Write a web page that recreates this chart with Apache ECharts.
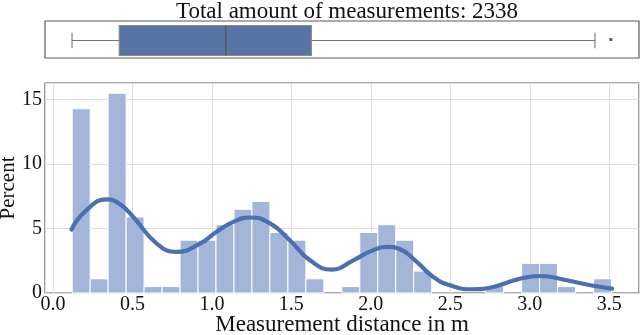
<!DOCTYPE html>
<html><head><meta charset="utf-8">
<script src="https://cdn.jsdelivr.net/npm/echarts@6/dist/echarts.min.js"></script>
<style>html,body{margin:0;padding:0;background:#fff}#c{width:640px;height:335px}</style>
</head><body><div id="c"></div>
<script>
// ---- data ----
const titleText = 'Total amount of measurements: 2338';
const xName = 'Measurement distance in m';
const yName = 'Percent';
const binStart = 0.121;
const binWidth = 0.1131;
const binPercent = [14.3, 1.1, 15.5, 5.9, 0.5, 0.5, 4.1, 4.1, 5.3, 6.5, 7.1, 4.7, 4.1, 1.1, 0, 0.5, 4.7, 5.3, 4.1, 1.7, 0, 0, 0, 0.5, 0, 2.3, 2.3, 0.5, 0, 1.1];
const kdeX = [0.117, 0.2, 0.338, 0.42, 0.505, 0.653, 0.778, 0.925, 1.03, 1.135, 1.24, 1.366, 1.49, 1.617, 1.754, 1.89, 2.0, 2.1, 2.184, 2.289, 2.393, 2.498, 2.635, 2.77, 2.918, 3.065, 3.233, 3.38, 3.518];
const kdeY = [4.93, 6.3, 7.26, 6.9, 5.9, 3.84, 3.19, 3.84, 4.75, 5.52, 5.86, 5.4, 4.1, 2.54, 1.82, 2.54, 3.25, 3.58, 3.4, 2.41, 1.24, 0.6, 0.29, 0.47, 1.04, 1.32, 0.99, 0.6, 0.34];
const boxStats = [0.12, 0.417, 1.087, 1.626, 3.41]; // whisker min, Q1, median, Q3, whisker max
const outliers = [3.51];

// ---- build ----
const histData = binPercent.map((h, i) => [binStart + i * binWidth, binStart + (i + 1) * binWidth, h]);
const kdeData = kdeX.map((x, i) => [x, kdeY[i]]);
const FONT = 'Liberation Serif';
const XMIN = -0.05, XMAX = 3.687;
const LINE = '#757575';

const chart = echarts.init(document.getElementById('c'), null, {renderer: 'canvas'});
chart.setOption({
  animation: false,
  backgroundColor: '#fff',
  textStyle: {fontFamily: FONT},
  title: {
    text: titleText, left: 342, top: -5, textAlign: 'center',
    textStyle: {fontFamily: FONT, fontSize: 23, fontWeight: 'normal', color: '#111'}
  },
  grid: [
    {left: 45, right: 1, top: 21, height: 37, containLabel: false, outerBoundsMode: 'none',
      show: true, borderColor: '#5a5a5a', borderWidth: 1.2, backgroundColor: '#fff'},
    {left: 45, right: 1, top: 83, bottom: 42, containLabel: false, outerBoundsMode: 'none',
      show: true, borderColor: '#5a5a5a', borderWidth: 1.2, backgroundColor: '#fff'}
  ],
  xAxis: [
    {type: 'value', gridIndex: 0, min: XMIN, max: XMAX, show: false, splitLine: {show: false}},
    {type: 'value', gridIndex: 1, min: XMIN, max: XMAX, splitNumber: 7,
      name: xName, nameLocation: 'middle', nameGap: 20, nameMoveOverlap: false,
      nameTextStyle: {fontFamily: FONT, fontSize: 23, color: '#111'},
      axisLine: {show: false}, axisTick: {show: false},
      axisLabel: {fontFamily: FONT, fontSize: 20, color: '#111', margin: 2,
        showMinLabel: false, showMaxLabel: false, formatter: v => v.toFixed(1)},
      splitLine: {show: true, lineStyle: {color: '#dedede', width: 1}}
    }
  ],
  yAxis: [
    {type: 'category', gridIndex: 0, data: [''], show: false},
    {type: 'value', gridIndex: 1, min: 0, max: 16.3, interval: 5,
      name: yName, nameLocation: 'middle', nameGap: 26, nameMoveOverlap: false,
      nameTextStyle: {fontFamily: FONT, fontSize: 21, color: '#111'},
      axisLine: {show: false}, axisTick: {show: false},
      axisLabel: {fontFamily: FONT, fontSize: 20, color: '#111', margin: 3, showMaxLabel: false},
      splitLine: {show: true, lineStyle: {color: '#dedede', width: 1}}
    }
  ],
  series: [
    {
      type: 'custom', xAxisIndex: 0, yAxisIndex: 0,
      data: [[0].concat(boxStats)],
      encode: {y: 0, x: [1, 2, 3, 4, 5]},
      renderItem: function (params, api) {
        const c = api.value(0);
        const pMin = api.coord([api.value(1), c]);
        const pQ1 = api.coord([api.value(2), c]);
        const pMed = api.coord([api.value(3), c]);
        const pQ3 = api.coord([api.value(4), c]);
        const pMax = api.coord([api.value(5), c]);
        const band = api.size([0, 1])[1];
        const bh = band * 0.81, ch = band * 0.42;
        const yc = Math.round(pMin[1]) + 0.5;
        const ls = {stroke: LINE, lineWidth: 1.1};
        return {
          type: 'group',
          children: [
            {type: 'line', shape: {x1: pMin[0], y1: yc, x2: pQ1[0], y2: yc}, style: ls},
            {type: 'line', shape: {x1: pQ3[0], y1: yc, x2: pMax[0], y2: yc}, style: ls},
            {type: 'line', shape: {x1: pMin[0], y1: yc - ch / 2, x2: pMin[0], y2: yc + ch / 2}, style: ls},
            {type: 'line', shape: {x1: pMax[0], y1: yc - ch / 2, x2: pMax[0], y2: yc + ch / 2}, style: ls},
            {type: 'rect', shape: {x: pQ1[0], y: yc - bh / 2, width: pQ3[0] - pQ1[0], height: bh},
              style: {fill: '#5874a4', stroke: '#8a8a8a', lineWidth: 1.2}},
            {type: 'line', shape: {x1: pMed[0], y1: yc - bh / 2, x2: pMed[0], y2: yc + bh / 2},
              style: {stroke: '#555', lineWidth: 1.3}}
          ]
        };
      }
    },
    {
      type: 'scatter', xAxisIndex: 0, yAxisIndex: 0,
      data: outliers.map(v => [v, 0]),
      symbol: 'rect', symbolSize: 3, itemStyle: {color: '#333'}
    },
    {
      type: 'custom', xAxisIndex: 1, yAxisIndex: 1,
      data: histData,
      encode: {x: [0, 1], y: 2},
      renderItem: function (params, api) {
        const h = api.value(2);
        if (!h) return null;
        const p0 = api.coord([api.value(0), h]);
        const p1 = api.coord([api.value(1), 0]);
        return {
          type: 'rect',
          shape: {x: p0[0], y: p0[1], width: p1[0] - p0[0], height: p1[1] - p0[1]},
          style: {fill: '#a3b5d8', stroke: '#ffffff', lineWidth: 1}
        };
      }
    },
    {
      type: 'line', xAxisIndex: 1, yAxisIndex: 1,
      data: kdeData, smooth: 0.5, showSymbol: false,
      lineStyle: {color: '#4c6fb0', width: 4.2, cap: 'round'},
      z: 5
    }
  ]
});
</script>
</body></html>
